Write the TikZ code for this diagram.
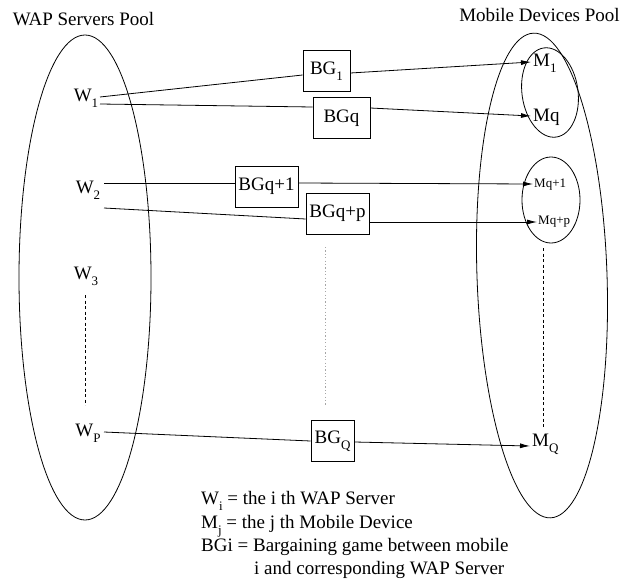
\documentclass[tikz,border=0pt]{standalone}
\usepackage{fontspec}
\setmainfont{Liberation Serif}
\usetikzlibrary{arrows.meta}
\newcommand{\lowr}[1]{\raisebox{-6pt}{\fontsize{13}{13}\selectfont #1}}
\begin{document}
\begin{tikzpicture}[x=1pt,y=-1pt,
  every node/.style={font=\fontsize{19}{23}\selectfont, inner sep=2pt},
  lbl/.style={},
  small/.style={font=\fontsize{13}{15}\selectfont, inner sep=1pt},
  bgbox/.style={draw, line width=0.8pt, minimum height=41pt, inner sep=1pt},
  conn/.style={line width=0.8pt},
  arr/.style={line width=0.8pt, -{Latex[length=10pt,width=5pt]}},
  pool/.style={line width=0.8pt},
  dsh/.style={line width=0.7pt, dash pattern=on 3pt off 2.5pt},
  dot/.style={line width=1pt, gray!70, dash pattern=on 1.2pt off 2.2pt},
  legend/.style={anchor=base west}
]
\useasboundingbox (0,0) rectangle (633,579);
% pools
\draw[pool] (85,277.5) ellipse [x radius=66, y radius=242.5];
\draw[pool] (542,275.5) ellipse [x radius=65, y radius=242.5, rotate=2];
\draw[pool] (550,92.5) ellipse [x radius=28, y radius=45, rotate=8];
\draw[pool] (551,200) ellipse [x radius=29, y radius=43];
% titles
\node (t1) at (83.5,19) {WAP Servers Pool};
\node (t2) at (539.5,15) {Mobile Devices Pool};
% servers
\node (w1) at (86,98) {W\lowr{1}};
\node (w2) at (88,190) {W\lowr{2}};
\node (w3) at (86,276) {W\lowr{3}};
\node (wp) at (88,433) {W\lowr{P}};
% boxes
\node[bgbox, minimum width=47pt] (bg1) at (326.5,71) {BG\lowr{1}};
\node[bgbox, minimum width=57pt] (bgq) at (341.5,118) {BGq};
\node[bgbox, minimum width=63pt] (bgq1) at (266.5,186.5) {BGq+1};
\node[bgbox, minimum width=63pt] (bgqp) at (337.5,213.5) {BGq+p};
\node[bgbox, minimum width=43pt] (bgQ) at (332.5,441) {BG\lowr{Q}};
% mobiles
\node[anchor=west] (m1) at (531,63) {M\lowr{1}};
\node[anchor=west] (mq) at (531,117) {Mq};
\node[small, anchor=west] (mq1) at (533,185) {Mq+1};
\node[small, anchor=west] (mqp) at (537,222) {Mq+p};
\node[anchor=west] (mQ) at (530,444) {M\lowr{Q}};
% coordinates for line ends
\coordinate (w1a) at (100,97);
\coordinate (w1b) at (100,104);
\coordinate (w2a) at (104,183);
\coordinate (w2b) at (104,208);
\coordinate (wpa) at (104,432);
% connectors
\draw[conn] (w1a) -- (bg1.west |- 0,75);
\draw[arr] (bg1.east |- 0,73) -- (m1.west |- 0,62);
\draw[conn] (w1b) -- (bgq.west |- 0,107);
\draw[arr] (bgq.east |- 0,108) -- (mq.west |- 0,116);
\draw[conn] (w2a) -- (bgq1.west |- 0,183);
\draw[arr] (bgq1.east |- 0,183) -- (mq1.west |- 0,184);
\draw[conn] (w2b) -- (bgqp.west |- 0,219);
\draw[arr] (bgqp.east |- 0,222) -- (mqp.west |- 0,222);
\draw[conn] (wpa) -- (bgQ.west |- 0,441);
\draw[arr] (bgQ.east |- 0,442) -- (mQ.west |- 0,446);
% ellipsis lines
\draw[dsh] (85,295) -- (85,405);
\draw[dsh] (543,248) -- (543,427);
\draw[dot] (325,247) -- (325,406);
% legend
\node[legend] (l1) at (199,504) {W\lowr{i} = the i th WAP Server};
\node[legend] (l2) at (199,528) {M\lowr{j} = the j th Mobile Device};
\node[legend] (l3) at (199,551) {BGi = Bargaining game between mobile};
\node[legend] (l4) at (252,574) {i and corresponding WAP Server};
\end{tikzpicture}
\end{document}
